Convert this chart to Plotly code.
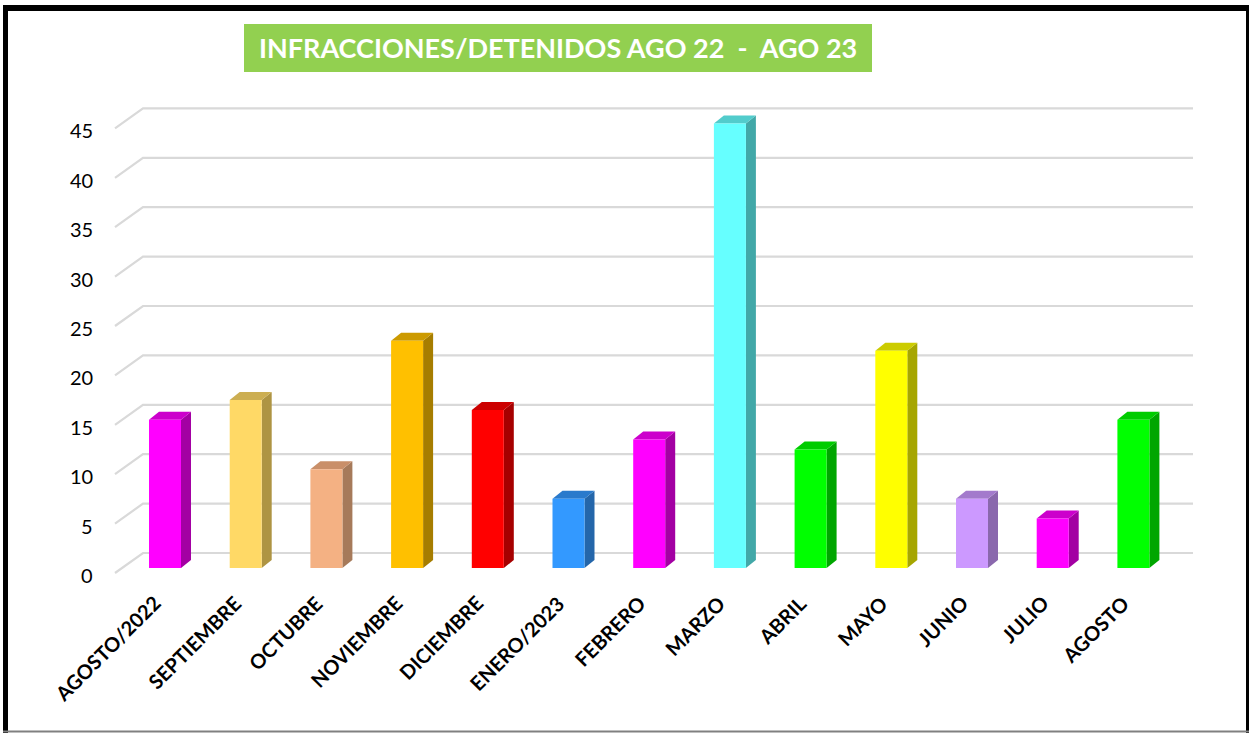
import plotly.graph_objects as go

# ---------------- data ----------------
categories = ["AGOSTO/2022", "SEPTIEMBRE", "OCTUBRE", "NOVIEMBRE", "DICIEMBRE",
              "ENERO/2023", "FEBRERO", "MARZO", "ABRIL", "MAYO", "JUNIO", "JULIO", "AGOSTO"]
values = [15, 17, 10, 23, 16, 7, 13, 45, 12, 22, 7, 5, 15]
front_colors = ["#FF00FF", "#FFD966", "#F4B183", "#FFC000", "#FF0000", "#3399FF", "#FF00FF",
                "#66FFFF", "#00FF00", "#FFFF00", "#CC99FF", "#FF00FF", "#00FF00"]
side_colors = ["#A300A3", "#AE9443", "#A67A5A", "#A67D00", "#A60000", "#2466AA", "#A300A3",
               "#42A8A8", "#00A600", "#A6A600", "#8A68AD", "#A300A3", "#00A600"]
top_colors = ["#CC00CC", "#CCAE52", "#C98F69", "#CC9A00", "#CC0000", "#2A7ACC", "#CC00CC",
              "#52CCCC", "#00CC00", "#CCCC00", "#A37ACC", "#CC00CC", "#00CC00"]
y_ticks = [0, 5, 10, 15, 20, 25, 30, 35, 40, 45]
title_text = "INFRACCIONES/DETENIDOS AGO 22\u00a0\u00a0-\u00a0\u00a0AGO 23"

# ---------------- layout constants (pixels) ----------------
W, H = 1251, 733
XPX0, XSTEP = 165.0, 80.7     # pixel of first category centre, px per category
YPX0, YSTEP = 568.0, 9.88     # pixel of value 0 (bar base), px per unit

def ux(px):   # horizontal pixel length -> data units
    return px / XSTEP

def uy(px):   # vertical pixel length -> data units
    return px / YSTEP

def xat(pix):  # absolute pixel x -> data x
    return (pix - XPX0) / XSTEP

x_range = [xat(0), xat(W)]
y_range = [(YPX0 - H) / YSTEP, YPX0 / YSTEP]

half_w = ux(16)
dep_x, dep_y = ux(10), uy(8)
label_drop = uy(5)
back_rise = uy(15)

fig = go.Figure()

# grid lines (back wall) and side-wall diagonals
gx, gy = [], []
for t in y_ticks:
    gx += [xat(115), xat(143), xat(1193), None]
    gy += [t - label_drop, t + back_rise, t + back_rise, None]
fig.add_trace(go.Scatter(x=gx, y=gy, mode="lines",
                         line=dict(color="#D9D9D9", width=2.2),
                         hoverinfo="skip", showlegend=False))

# 3D-looking bars
for i, (v, fc, sc, tc) in enumerate(zip(values, front_colors, side_colors, top_colors)):
    xl, xr = i - half_w, i + half_w
    # side face
    fig.add_trace(go.Scatter(
        x=[xr, xr + dep_x, xr + dep_x, xr, xr],
        y=[0, dep_y, v + dep_y, v, 0],
        fill="toself", fillcolor=sc, mode="lines", line=dict(width=0, color=sc),
        hoverinfo="skip", showlegend=False))
    # top face
    fig.add_trace(go.Scatter(
        x=[xl, xr, xr + dep_x, xl + dep_x, xl],
        y=[v, v, v + dep_y, v + dep_y, v],
        fill="toself", fillcolor=tc, mode="lines", line=dict(width=0, color=tc),
        hoverinfo="skip", showlegend=False))
    # front face
    fig.add_trace(go.Scatter(
        x=[xl, xr, xr, xl, xl],
        y=[0, 0, v, v, 0],
        fill="toself", fillcolor=fc, mode="lines", line=dict(width=0, color=fc),
        hoverinfo="skip", showlegend=False))

annotations = []
# y tick labels
for t in y_ticks:
    annotations.append(dict(x=xat(95), y=t - label_drop - uy(2), xref="x", yref="y",
                            text=str(t), showarrow=False, xanchor="right", yanchor="middle",
                            font=dict(family="Lato", size=20, color="#000000")))
# category labels
for i, c in enumerate(categories):
    annotations.append(dict(x=i + ux(3), y=-uy(20), xref="x", yref="y",
                            text="<b>" + c + "</b>", showarrow=False, textangle=-45,
                            xanchor="right", yanchor="top",
                            font=dict(family="Lato", size=20, color="#000000")))
# title
annotations.append(dict(x=(244 + 872) / 2 / W, y=1 - 48 / H, xref="paper", yref="paper",
                        text="<b>" + title_text + "</b>", showarrow=False,
                        xanchor="center", yanchor="middle",
                        font=dict(family="Lato", size=27, color="#FFFFFF")))

shapes = [
    # title background
    dict(type="rect", xref="paper", yref="paper",
         x0=244 / W, x1=872 / W, y0=1 - 72 / H, y1=1 - 24 / H,
         fillcolor="#92D050", line=dict(width=0), layer="below"),
    # outer frame
    dict(type="line", xref="paper", yref="paper", x0=5.5 / W, x1=5.5 / W, y0=0, y1=1 - 5 / H,
         line=dict(color="#000000", width=5)),
    dict(type="line", xref="paper", yref="paper", x0=3 / W, x1=1249 / W, y0=1 - 8 / H, y1=1 - 8 / H,
         line=dict(color="#000000", width=6)),
    dict(type="line", xref="paper", yref="paper", x0=1247.5 / W, x1=1247.5 / W, y0=0, y1=1 - 5 / H,
         line=dict(color="#000000", width=3)),
    dict(type="line", xref="paper", yref="paper", x0=3 / W, x1=1249 / W, y0=1.5 / H, y1=1.5 / H,
         line=dict(color="#808080", width=2)),
]

fig.update_layout(
    width=W, height=H, autosize=False,
    margin=dict(l=0, r=0, t=0, b=0, pad=0),
    paper_bgcolor="#FFFFFF", plot_bgcolor="#FFFFFF",
    xaxis=dict(range=x_range, visible=False, fixedrange=True),
    yaxis=dict(range=y_range, visible=False, fixedrange=True),
    annotations=annotations, shapes=shapes, showlegend=False,
)

fig.write_html("out.html", config={"displayModeBar": False},
               post_script="document.body.style.margin='0';document.body.style.overflow='hidden';")
